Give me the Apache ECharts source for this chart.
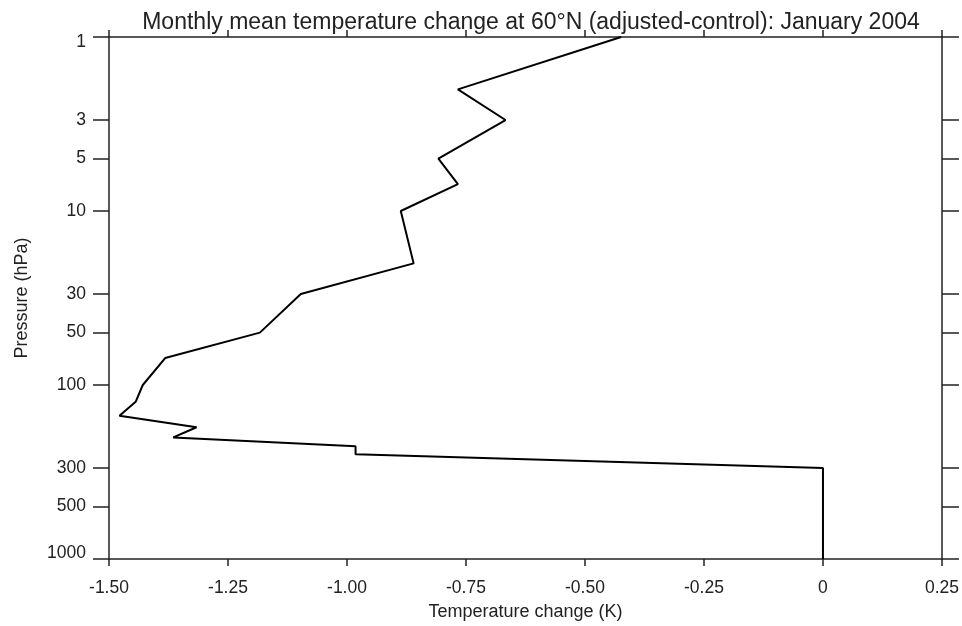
<!DOCTYPE html>
<html>
<head>
<meta charset="utf-8">
<script src="https://cdn.jsdelivr.net/npm/echarts@6/dist/echarts.min.js"></script>
<style>
  html, body { margin: 0; padding: 0; background: #fff; overflow: hidden; }
  #chart { position: absolute; left: 0; top: 0; width: 962px; height: 626px; }
</style>
</head>
<body>
<div id="chart"></div>
<script>
// Pressure levels (hPa) and the temperature change at each level (K)
const pressureLevels = [1, 2, 3, 5, 7, 10, 20, 30, 50, 70, 100, 125, 150, 175, 200, 225, 250, 300, 400, 500, 700, 850, 1000];
const temperatureChange = [-0.424, -0.767, -0.667, -0.808, -0.767, -0.887, -0.860, -1.097, -1.183, -1.382, -1.429, -1.444, -1.478, -1.316, -1.365, -0.982, -0.982, 0, 0, 0, 0, 0, 0];

// Axis tick marks
const pressureTicks = [1, 3, 5, 10, 30, 50, 100, 300, 500, 1000];
const tempTicks = [-1.5, -1.25, -1.0, -0.75, -0.5, -0.25, 0, 0.25];

const FONT = '"Liberation Sans", Arial, Helvetica, sans-serif';
const INK = '#222';

const profile = pressureLevels.map((p, i) => [temperatureChange[i], p]);

const chart = echarts.init(document.getElementById('chart'), null, {
  renderer: 'canvas', width: 962, height: 626
});

const xCommon = {
  type: 'value',
  min: tempTicks[0],
  max: tempTicks[tempTicks.length - 1],
  interval: 0.25,
  splitLine: { show: false },
  axisLine: { show: true, onZero: false, lineStyle: { color: INK, width: 1.5 } },
  axisTick: { show: true, inside: false, length: 7, lineStyle: { color: INK, width: 1.5 } }
};

const yCommon = {
  type: 'log',
  logBase: 10,
  min: 1,
  max: 1000,
  inverse: true,
  splitLine: { show: false },
  axisLine: { show: true, onZero: false, lineStyle: { color: INK, width: 1.5 } },
  axisTick: { show: true, inside: false, length: 16, customValues: pressureTicks, lineStyle: { color: INK, width: 1.5 } }
};

// End labels of the pressure axis sit slightly inside the frame
const firstP = pressureTicks[0];
const lastP = pressureTicks[pressureTicks.length - 1];
function pressureLabel(v) {
  const s = String(Math.round(v));
  if (Math.round(v) === firstP) return '{lo|' + s + '}';
  if (Math.round(v) === lastP) return '{hi|' + s + '}';
  return s;
}

chart.setOption({
  animation: false,
  backgroundColor: '#fff',
  title: {
    text: 'Monthly mean temperature change at 60°N (adjusted-control): January 2004',
    left: 526,
    textAlign: 'center',
    top: 6,
    textStyle: { fontFamily: FONT, fontSize: 23, fontWeight: 'normal', color: INK }
  },
  grid: { left: 109, right: 19, top: 37, bottom: 63, containLabel: false },
  xAxis: [
    Object.assign({}, xCommon, {
      position: 'bottom',
      name: 'Temperature change (K)',
      nameLocation: 'middle',
      nameGap: 44,
      nameTextStyle: { fontFamily: FONT, fontSize: 18, color: INK },
      axisLabel: {
        show: true,
        margin: 20,
        fontFamily: FONT,
        fontSize: 17.5,
        color: INK,
        formatter: v => (v === 0 ? '0' : v.toFixed(2))
      }
    }),
    Object.assign({}, xCommon, {
      position: 'top',
      axisLabel: { show: false }
    })
  ],
  yAxis: [
    Object.assign({}, yCommon, {
      position: 'left',
      name: 'Pressure (hPa)',
      nameLocation: 'middle',
      nameGap: 78,
      nameRotate: 90,
      nameTextStyle: { fontFamily: FONT, fontSize: 18, color: INK },
      axisLabel: {
        show: true,
        margin: 23,
        fontFamily: FONT,
        fontSize: 17.5,
        color: INK,
        customValues: pressureTicks,
        formatter: pressureLabel,
        rich: {
          lo: { fontFamily: FONT, fontSize: 17.5, color: INK, padding: [10, 0, 0, 0] },
          hi: { fontFamily: FONT, fontSize: 17.5, color: INK, padding: [0, 0, 11, 0] }
        }
      }
    }),
    Object.assign({}, yCommon, {
      position: 'right',
      axisTick: { show: true, inside: false, length: 17, customValues: pressureTicks, lineStyle: { color: INK, width: 1.5 } },
      axisLabel: { show: false }
    })
  ],
  series: [{
    type: 'line',
    xAxisIndex: 0,
    yAxisIndex: 0,
    data: profile,
    showSymbol: false,
    symbol: 'none',
    lineStyle: { color: '#000', width: 2 },
    silent: true
  }]
});
</script>
</body>
</html>
